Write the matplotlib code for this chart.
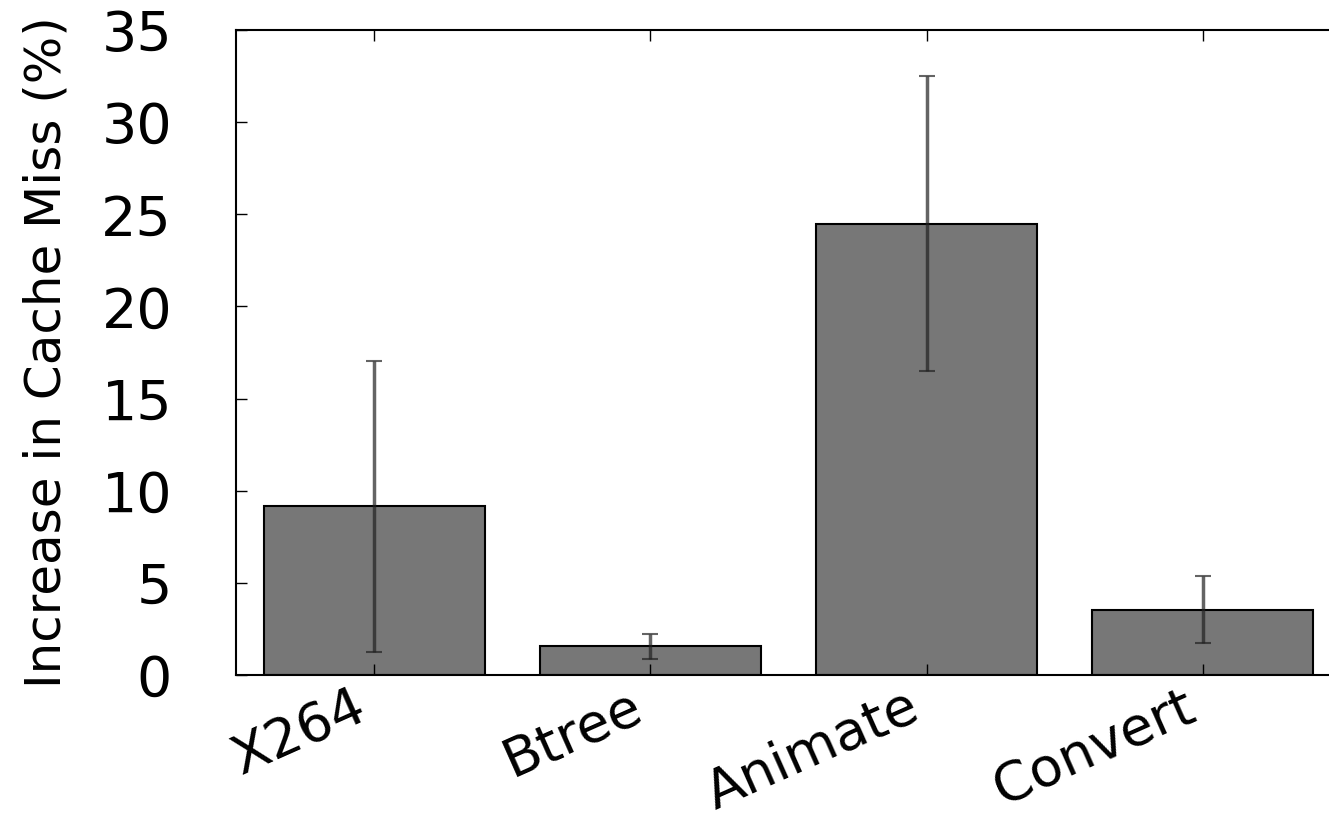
import matplotlib
matplotlib.use("Agg")
import matplotlib.pyplot as plt

categories = ["X264", "Btree", "Animate", "Convert"]
values = [9.15, 1.55, 24.5, 3.55]
errors = [7.9, 0.68, 8.0, 1.8]
yticks = [0, 5, 10, 15, 20, 25, 30, 35]

fig = plt.figure(figsize=(13.29, 8.19), dpi=100)
ax = fig.add_axes([236/1329, (819-675)/819, (1341-236)/1329, 645/819])
x = list(range(len(categories)))
ax.bar(x, values, width=0.8, color="#777777", edgecolor="black", linewidth=1.5,
       yerr=errors, error_kw=dict(ecolor="#222222", elinewidth=2.5, capsize=6, capthick=1.5, alpha=0.7))
ax.set_xlim(-0.5, 3.5)
ax.set_ylim(0, 35)
ax.set_yticks(yticks)
ax.set_yticklabels([str(t) for t in yticks])
ax.set_xticks(x)
ax.set_xticklabels(categories, rotation=24, ha="right", rotation_mode="default")
ax.tick_params(direction="in", top=True, right=True, length=8, width=1, labelsize=40)
ax.tick_params(axis="x", labelsize=39, pad=4)
ax.tick_params(axis="y", pad=46)
for s in ax.spines.values():
    s.set_linewidth(1.5)
ax.set_ylabel("Increase in Cache Miss (%)", fontsize=36, labelpad=22)
fig.savefig("out.png", dpi=100)
